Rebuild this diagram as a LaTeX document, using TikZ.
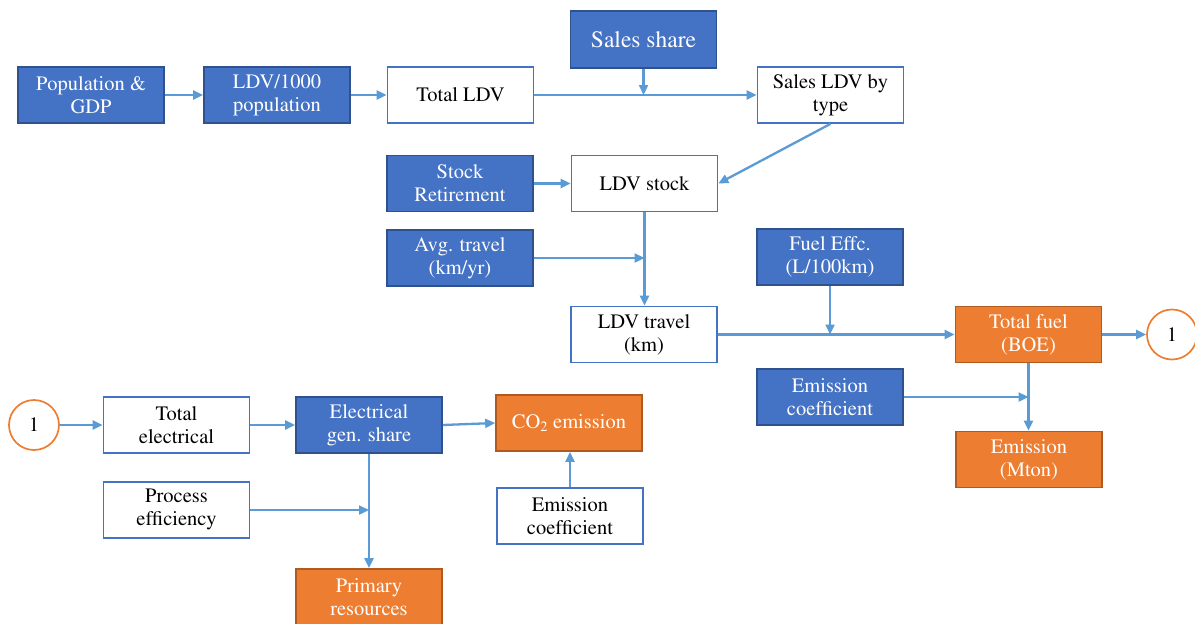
\documentclass[tikz,border=0pt]{standalone}
\usepackage[T1]{fontenc}
\usepackage{times}
\usetikzlibrary{arrows.meta}
\definecolor{boxblue}{HTML}{4472C4}
\definecolor{edgeblue}{HTML}{2F528F}
\definecolor{lineblue}{HTML}{5B9BD5}
\definecolor{boxorange}{HTML}{ED7D31}
\definecolor{edgeorange}{HTML}{AE5A21}

\begin{document}
\begin{tikzpicture}[x=1pt,y=-1pt,
    box/.style={rectangle,minimum width=146pt,minimum height=56pt,inner sep=2pt,
      align=center,font=\fontsize{20.5}{23}\selectfont,line width=1.7pt},
    input/.style={box,fill=boxblue,draw=edgeblue,text=white},
    calc/.style={box,fill=white,draw=boxblue,text=black},
    output/.style={box,fill=boxorange,draw=edgeorange,text=white},
    link/.style={circle,draw=boxorange,fill=white,line width=1.7pt,minimum size=50pt,
      inner sep=0pt,font=\fontsize{20.5}{23}\selectfont},
    flow/.style={draw=lineblue,line width=2.3pt,-{Triangle[length=10pt,width=9pt]}}]
    \useasboundingbox (0,0) rectangle (1195,624);

    % Vehicle chain
    \node[input] (pop) at (91,95) {Population \&\\GDP};
    \node[input] (ratio) at (277,95) {LDV/1000\\population};
    \node[calc] (total) at (460.5,95) {Total LDV};
    \node[input,minimum height=57pt,font=\fontsize{23.5}{26}\selectfont] (share) at (643.5,39.5) {Sales share};
    \node[calc] (sales) at (830.5,95) {Sales LDV by\\type};
    \node[input] (retire) at (460,183.5) {Stock\\Retirement};
    \node[calc] (stock) at (644.5,183.5) {LDV stock};
    \node[input] (avg) at (460,258) {Avg. travel\\(km/yr)};
    \node[input] (effc) at (830,257) {Fuel Effc.\\(L/100km)};
    \node[calc] (travel) at (644,334.5) {LDV travel\\(km)};
    \node[output] (fuel) at (1028.5,334.5) {Total fuel\\(BOE)};
    \node[link] (out1) at (1172,334.5) {1};
    \node[input] (coef) at (830,397) {Emission\\coefficient};
    \node[output] (mton) at (1029,459.5) {Emission\\(Mton)};

    % Electricity chain
    \node[link] (in1) at (34,425) {1};
    \node[calc] (totel) at (176.5,425) {Total\\electrical};
    \node[input] (gen) at (369,425) {Electrical\\gen. share};
    \node[output] (co2) at (569,423) {CO\textsubscript{2} emission};
    \node[calc] (proc) at (176.5,510) {Process\\efficiency};
    \node[calc] (coeftwo) at (570,516) {Emission\\coefficient};
    \node[output] (prim) at (369,597) {Primary\\resources};

    % Arrows
    \draw[flow] (pop) -- (ratio);
    \draw[flow] (ratio) -- (total);
    \draw[flow] (total) -- (sales);
    \draw[flow] (share.south) -- (share.south |- total);
    \draw[flow] (sales.south) -- (stock.east);
    \draw[flow] (retire) -- (stock);
    \draw[flow] (stock.south) -- (stock.south |- travel.north);
    \draw[flow] (avg) -- (stock.south |- avg);
    \draw[flow] (travel) -- (fuel);
    \draw[flow] (effc.south) -- (effc.south |- travel);
    \draw[flow] (fuel) -- (out1);
    \draw[flow] (fuel.south) -- (fuel.south |- mton.north);
    \draw[flow] (coef) -- (fuel.south |- coef);

    \draw[flow] (in1) -- (totel);
    \draw[flow] (totel) -- (gen);
    \draw[flow] (gen.east) -- (co2.west);
    \draw[flow] (coeftwo.north) -- (coeftwo.north |- co2.south);
    \draw[flow] (gen.south) -- (gen.south |- prim.north);
    \draw[flow] (proc) -- (gen.south |- proc);
\end{tikzpicture}
\end{document}
